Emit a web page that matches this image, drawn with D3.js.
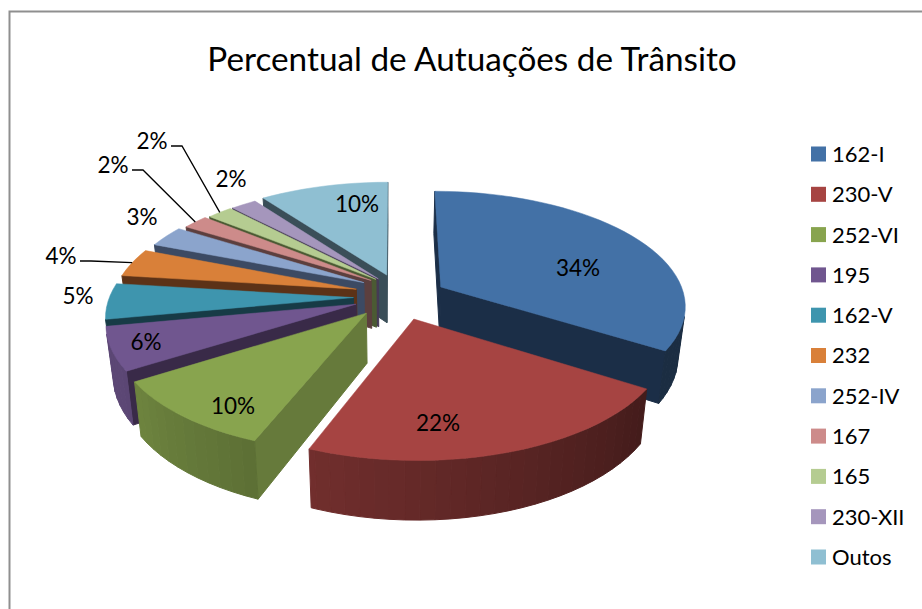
<!DOCTYPE html>
<html>
<head>
<meta charset="utf-8">
<script src="https://d3js.org/d3.v7.min.js"></script>
<style>
  body { margin: 0; background: #fff; }
  text { font-family: Lato, "Open Sans", sans-serif; fill: #000; }
</style>
</head>
<body>
<div id="chart"></div>
<script>
// chart values
var categories = ["162-I", "230-V", "252-VI", "195", "162-V", "232", "252-IV", "167", "165", "230-XII", "Outos"];
var percents = [34, 22, 10, 6, 5, 4, 3, 2, 2, 2, 10];
var chartTitle = "Percentual de Autuações de Trânsito";

// slice colours, same order as categories
var colors = ["#4371a6", "#a64442", "#88a44e", "#70568f", "#3e95ae", "#d98039", "#8ba4cc", "#cd8b8a", "#b5cc91", "#a596bc", "#8fbfd2"];
var wallColors = ["#1b2e47", "#451c1a", "#667a3b", "#392a48", "#173b46", "#5c3217", "#3c4a63", "#5c3f3e", "#4b5a33", "#453a55", "#3a4e58"];

// how far each slice is pulled out of the pie, in pie radii (x, y on the ground plane)
var explodeX = [0.19, 0.075, -0.115, -0.158, -0.17, -0.16, -0.13, -0.10, -0.08, -0.07, -0.035];
var explodeY = [-0.09, 0.19, 0.14, 0.063, 0.005, -0.07, -0.13, -0.15, -0.16, -0.165, -0.2];

// hand placed data labels, as excel had them. elbow = has a leader line
var labelX = [578, 438, 233, 146, 78, 61, 142, 113, 152, 231, 357];
var labelY = [268, 423, 406, 342, 296, 256, 217, 165, 141, 179, 204];
var labelLeader = [0, 0, 0, 0, 0, 1, 0, 1, 1, 0, 0];

var width = 922, height = 609;
var cx = 395, cy = 297;
var radius = 244, tilt = 0.4625, persp = 0.15;
var wallHeight = 49, bottomShrink = 0.975;

var svg = d3.select("#chart").append("svg")
    .attr("width", width)
    .attr("height", height);

// chart frame, runs off the picture on the right and bottom
svg.append("path")
    .attr("d", "M9.5,609V11.5H922")
    .attr("fill", "none")
    .attr("stroke", "#8f8f8f")
    .attr("stroke-width", 2);

svg.append("text")
    .attr("x", 472)
    .attr("y", 71)
    .attr("text-anchor", "middle")
    .attr("font-size", 33.3)
    .text(chartTitle);

var pie = d3.pie().sort(null).value(function(d) { return d; });
var arcs = pie(percents);
var total = d3.sum(percents);
var pformat = d3.format(".0%");

// ground plane -> screen, a: clockwise from north
function project(i, a, r) {
    var X = explodeX[i] + r * Math.sin(a);
    var Y = explodeY[i] - r * Math.cos(a);
    var s = 1 / (1 - persp * Y);
    var sx = cx + X * radius * s;
    var sy = cy + Y * radius * tilt * s;
    return {
        x: sx,
        y: sy,
        bx: cx + (sx - cx) * bottomShrink,
        by: sy + wallHeight * s
    };
}

var line = d3.line();

// wall between two top edge points, skipped if it faces away
function wall(g, p, q, fill) {
    var poly = [[p.x, p.y], [q.x, q.y], [q.bx, q.by], [p.bx, p.by]];
    if (d3.polygonArea(poly) <= 0) return;
    g.append("path")
        .attr("d", line(poly) + "Z")
        .attr("fill", fill)
        .attr("stroke", fill)
        .attr("stroke-width", 1);
}

function shade(c, f) {
    var rgb = d3.rgb(c);
    return d3.rgb(rgb.r * f, rgb.g * f, rgb.b * f).formatHex();
}

// rim gets darker going round to the right
var rimLight = d3.scaleLinear().domain([120, 240]).range([0.4, 0.82]).clamp(true);

// back slices first
var drawOrder = [10, 9, 8, 7, 6, 5, 4, 3, 2, 0, 1];

drawOrder.forEach(function(i) {
    var d = arcs[i];
    var g = svg.append("g").attr("class", "slice");
    var apex = project(i, 0, 0);
    var steps = d3.range(d.startAngle, d.endAngle, Math.PI / 60).concat([d.endAngle]);
    var outer = steps.map(function(a) { return project(i, a, 1); });

    // cut faces
    wall(g, apex, outer[0], wallColors[i]);
    wall(g, outer[outer.length - 1], apex, wallColors[i]);

    // rim, one band per 3 degrees
    for (var k = 0; k < outer.length - 1; k++) {
        var deg = steps[k] * 180 / Math.PI;
        wall(g, outer[k], outer[k + 1], shade(colors[i], rimLight(deg)));
    }

    // top face
    var top = [[apex.x, apex.y]].concat(outer.map(function(p) { return [p.x, p.y]; }));
    g.append("path")
        .attr("d", line(top) + "Z")
        .attr("fill", colors[i])
        .attr("stroke", colors[i])
        .attr("stroke-width", 0.5);
});

// data labels
percents.forEach(function(v, i) {
    if (labelLeader[i]) {
        var d = arcs[i];
        var rim = project(i, (d.startAngle + d.endAngle) / 2, 1);
        var x0 = labelX[i] + 19;
        var y0 = labelY[i] + 5;
        svg.append("path")
            .attr("d", line([[x0, y0], [x0 + 11, y0], [rim.x, rim.y]]))
            .attr("fill", "none")
            .attr("stroke", "#000")
            .attr("stroke-width", 1.3);
    }
    svg.append("text")
        .attr("x", labelX[i])
        .attr("y", labelY[i])
        .attr("dy", "0.35em")
        .attr("text-anchor", "middle")
        .attr("font-size", 22.5)
        .text(pformat(v / total));
});

// legend
var legendY = d3.scalePoint().domain(categories).range([154, 557]);
var legend = svg.selectAll(".legend")
    .data(categories)
    .enter()
    .append("g")
    .attr("class", "legend")
    .attr("transform", function(d) { return "translate(811," + legendY(d) + ")"; });

legend.append("rect")
    .attr("y", -7.5)
    .attr("width", 15)
    .attr("height", 15)
    .attr("fill", function(d, i) { return colors[i]; });

legend.append("text")
    .attr("x", 21)
    .attr("dy", "0.36em")
    .attr("font-size", 22)
    .text(function(d) { return d; });
</script>
</body>
</html>
